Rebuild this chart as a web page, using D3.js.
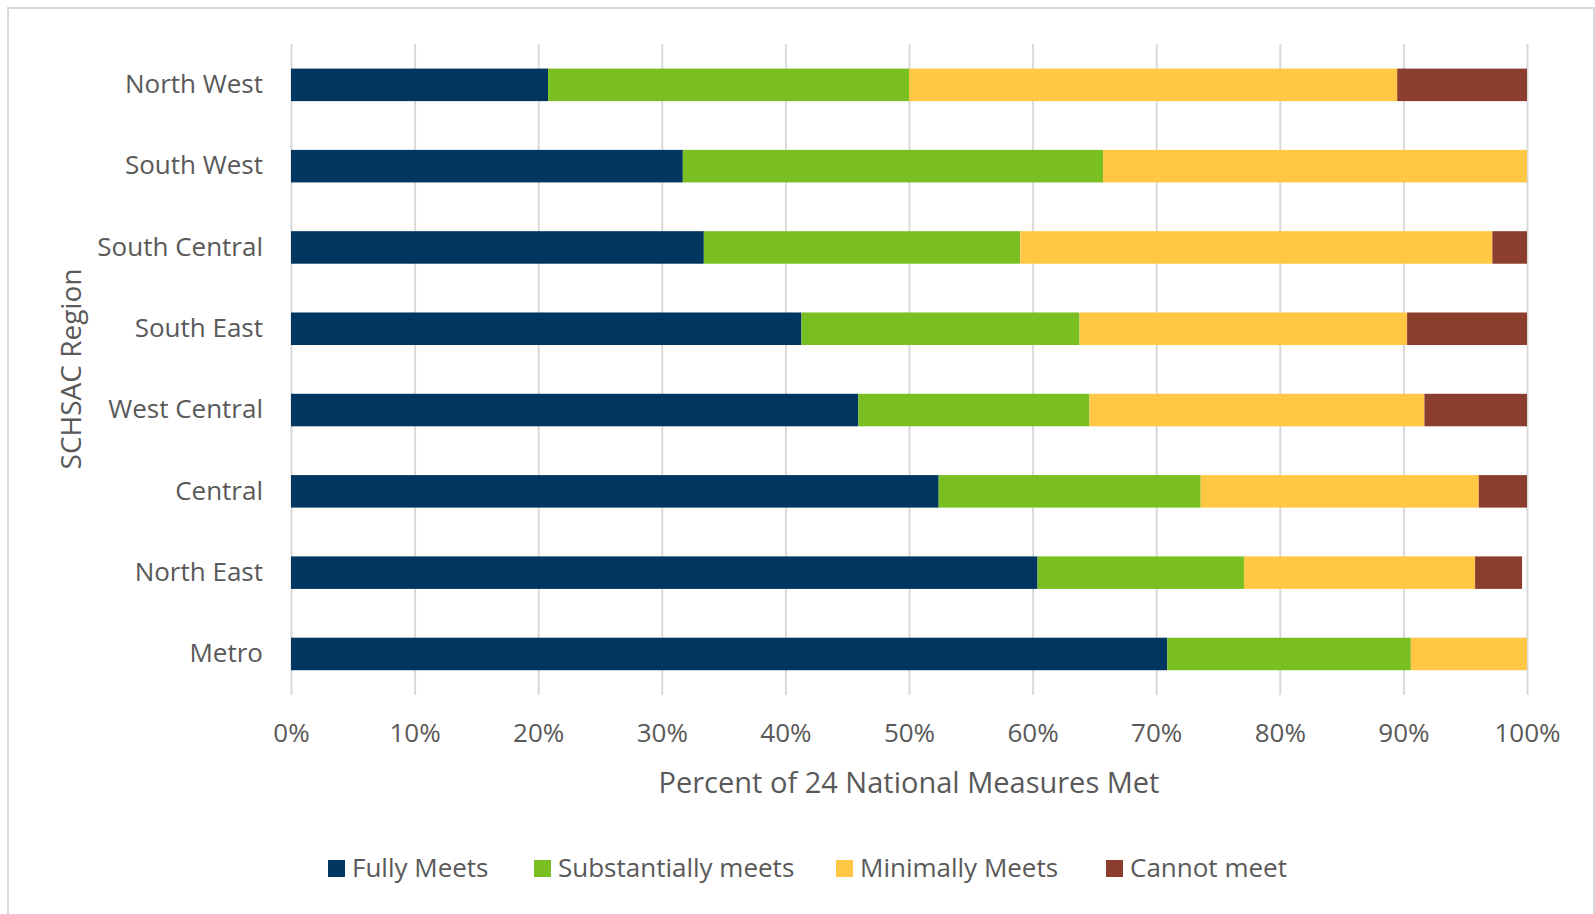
<!DOCTYPE html>
<html>
<head>
<meta charset="utf-8">
<script src="https://cdn.jsdelivr.net/npm/d3@7"></script>
<style>
  body { margin: 0; background: #fff; }
  svg { display: block; }
</style>
</head>
<body>
<div id="chart"></div>
<script>
// Regions, top to bottom
const regions = ["North West", "South West", "South Central", "South East", "West Central", "Central", "North East", "Metro"];

// Percent of the 24 national measures in each status
const fullyMeets         = [20.8, 31.7, 33.4, 41.3, 45.9, 52.4, 60.4, 70.9];
const substantiallyMeets = [29.2, 34.0, 25.6, 22.5, 18.7, 21.2, 16.7, 19.7];
const minimallyMeets     = [39.5, 34.3, 38.2, 26.5, 27.1, 22.5, 18.7, 9.4];
const cannotMeet         = [10.5, 0, 2.8, 9.7, 8.3, 3.9, 3.8, 0];

const seriesNames = ["Fully Meets", "Substantially meets", "Minimally Meets", "Cannot meet"];
const xTicks = [0, 10, 20, 30, 40, 50, 60, 70, 80, 90, 100];

const colors = ["#003660", "#7abf22", "#ffc744", "#8b3d2e"];
const textColor = "#595959";
const font = "'Open Sans', sans-serif";

const width = 1595;
const height = 914;

const rows = regions.map((r, i) => ({
  region: r,
  "Fully Meets": fullyMeets[i],
  "Substantially meets": substantiallyMeets[i],
  "Minimally Meets": minimallyMeets[i],
  "Cannot meet": cannotMeet[i]
}));

const svg = d3.select("#chart")
  .append("svg")
  .attr("width", width)
  .attr("height", height)
  .style("font-family", font);

// outer frame
svg.append("rect")
  .attr("x", 8)
  .attr("y", 8)
  .attr("width", 1586)
  .attr("height", 912)
  .attr("fill", "#fff")
  .attr("stroke", "#d9d9d9")
  .attr("stroke-width", 2);

const x = d3.scaleLinear()
  .domain([0, 100])
  .range([291, 1527]);

const y = d3.scaleBand()
  .domain(regions)
  .range([44.2, 694.6])
  .paddingInner(0.6)
  .paddingOuter(0.3);

// x axis with gridlines
const xAxis = svg.append("g")
  .attr("transform", "translate(0,44)")
  .call(d3.axisBottom(x).tickValues(xTicks).tickSize(651).tickPadding(29).tickFormat(d => d + "%"));
xAxis.select(".domain").remove();
xAxis.selectAll(".tick line")
  .attr("stroke", "#d9d9d9")
  .attr("stroke-width", 2);
xAxis.selectAll(".tick text")
  .attr("fill", textColor)
  .style("font-family", font)
  .style("font-size", "26px");

// stacked bars
const stack = d3.stack().keys(seriesNames);
const stacked = stack(rows);

svg.append("g")
  .selectAll("g")
  .data(stacked)
  .join("g")
  .attr("fill", (d, i) => colors[i])
  .selectAll("rect")
  .data(d => d)
  .join("rect")
  .attr("x", d => x(d[0]))
  .attr("y", d => y(d.data.region))
  .attr("width", d => x(d[1]) - x(d[0]))
  .attr("height", y.bandwidth());

// y axis labels
const yAxis = svg.append("g")
  .attr("transform", "translate(291,0)")
  .call(d3.axisLeft(y).tickSize(0).tickPadding(28));
yAxis.select(".domain").remove();
yAxis.selectAll(".tick text")
  .attr("fill", textColor)
  .style("font-family", font)
  .style("font-size", "26px");

// axis titles
svg.append("text")
  .attr("x", x(50))
  .attr("y", 793)
  .attr("text-anchor", "middle")
  .attr("fill", textColor)
  .style("font-size", "29px")
  .text("Percent of 24 National Measures Met");

svg.append("text")
  .attr("transform", "translate(81,369) rotate(-90)")
  .attr("text-anchor", "middle")
  .attr("fill", textColor)
  .style("font-size", "28px")
  .text("SCHSAC Region");

// legend, items placed where the reference has them
const legendX = [328, 534, 836, 1106];
const legend = svg.append("g")
  .attr("transform", "translate(0,868)")
  .selectAll("g")
  .data(seriesNames)
  .join("g")
  .attr("transform", (d, i) => `translate(${legendX[i]},0)`);

legend.append("rect")
  .attr("x", 0)
  .attr("y", -8)
  .attr("width", 17)
  .attr("height", 17)
  .attr("fill", (d, i) => colors[i]);

legend.append("text")
  .attr("x", 24)
  .attr("y", 9)
  .attr("fill", textColor)
  .style("font-size", "26px")
  .text(d => d);
</script>
</body>
</html>
